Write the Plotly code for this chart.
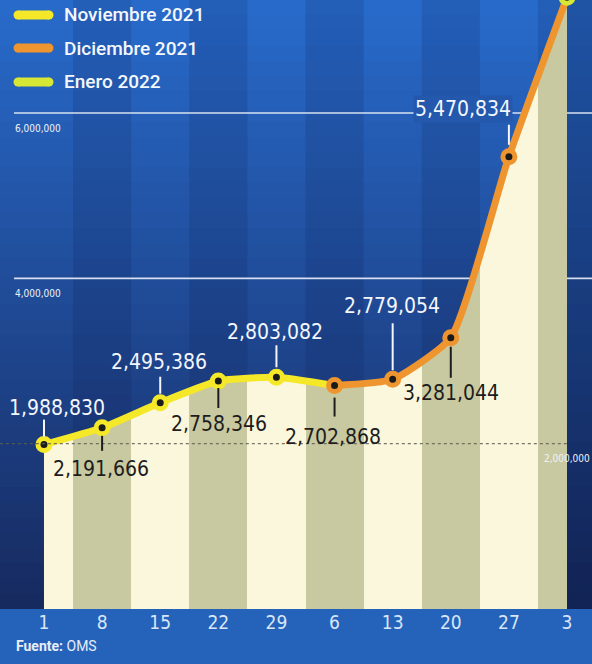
import plotly.graph_objects as go

# semanas (día de inicio) y casos semanales
weeks = ["1", "8", "15", "22", "29", "6", "13", "20", "27", "3"]
nov_values = [1988830, 2191666, 2495386, 2758346, 2803082]
dec_values = [2702868, 2779054, 3281044, 5470834]
jan_values = [7400000]
legend_labels = ["Noviembre 2021", "Diciembre 2021", "Enero 2022"]
grid_values = [2000000, 4000000, 6000000]
grid_labels = ["2,000,000", "4,000,000", "6,000,000"]

values = nov_values + dec_values + jan_values
idx = list(range(len(weeks)))
n_nov, n_dec = len(nov_values), len(dec_values)

YELLOW = "#f4e829"
ORANGE = "#ef9530"
LIME = "#d6e835"
CREAM = "#fbf7dd"
KHAKI = "#c9c9a1"
FONT = "DejaVu Sans Condensed, Liberation Sans Narrow, sans-serif"

fig = go.Figure()

# fondo degradado del área de dibujo (bandas solapadas para evitar costuras)
top_c = (40, 106, 202)
bot_c = (23, 42, 96)
n_bands = 40
for i in range(n_bands):
    t = i / (n_bands - 1)
    c = tuple(round(top_c[k] + (bot_c[k] - top_c[k]) * t) for k in range(3))
    fig.add_shape(type="rect", xref="paper", yref="paper", layer="below",
                  x0=0, x1=1, y0=max(1 - (i + 1.6) / n_bands, 0), y1=1 - i / n_bands,
                  fillcolor="rgb(%d,%d,%d)" % c, line_width=0)

# franjas verticales (más oscuras en semanas impares)
for i in idx:
    if i % 2 == 1:
        fig.add_shape(type="rect", xref="x", yref="paper", layer="below",
                      x0=i - 0.5, x1=min(i + 0.5, 9), y0=0, y1=1,
                      fillcolor="rgba(5,15,60,0.13)", line_width=0)
fig.add_shape(type="rect", xref="x", yref="paper", layer="below",
              x0=9, x1=10, y0=0, y1=1, fillcolor="rgba(5,15,50,0.25)", line_width=0)

# relleno rayado bajo la curva
stops = []
for i in idx:
    a = max(i - 0.5, 0) / 9
    b = min(i + 0.5, 9) / 9
    col = KHAKI if i % 2 == 1 else CREAM
    stops.append([a, col])
    stops.append([b, col])
fig.add_trace(go.Scatter(
    x=idx, y=values, mode="none", fill="tozeroy",
    line=dict(shape="spline", smoothing=0.5),
    fillgradient=dict(type="horizontal", start=0, stop=9, colorscale=stops),
    hoverinfo="skip", showlegend=False, cliponaxis=True))

# líneas
fig.add_trace(go.Scatter(
    x=idx[:n_nov + 1], y=values[:n_nov + 1], mode="lines",
    line=dict(color=YELLOW, width=7, shape="spline", smoothing=0.5),
    hoverinfo="skip", showlegend=False))
fig.add_trace(go.Scatter(
    x=idx[n_nov:], y=values[n_nov:], mode="lines",
    line=dict(color=ORANGE, width=7, shape="spline", smoothing=0.5),
    hoverinfo="skip", showlegend=False))

# marcadores por mes
for xs, ys, col, name in [
    (idx[:n_nov], nov_values, YELLOW, legend_labels[0]),
    (idx[n_nov:n_nov + n_dec], dec_values, ORANGE, legend_labels[1]),
    (idx[n_nov + n_dec:], jan_values, LIME, legend_labels[2]),
]:
    fig.add_trace(go.Scatter(
        x=xs, y=ys, mode="markers", name=name, showlegend=False,
        marker=dict(size=12, color="#1b1b1b", line=dict(color=col, width=5))))

# líneas de referencia
for v in grid_values:
    if v == 2000000:
        fig.add_shape(type="line", xref="x", yref="y", layer="above",
                      x0=-0.76, x1=9, y0=v, y1=v,
                      line=dict(color="rgba(95,95,80,0.85)", width=1.3, dash="dot"))
    else:
        fig.add_shape(type="line", xref="paper", yref="y", layer="below",
                      x0=14 / 592, x1=1, y0=v, y1=v,
                      line=dict(color="rgba(235,240,250,0.9)", width=1.6))

# etiquetas del eje y
for v, lab in zip(grid_values, grid_labels):
    if v == 2000000:
        fig.add_annotation(x=1, xref="paper", y=v, yref="y", text=lab,
                           showarrow=False, xanchor="right", yanchor="top", yshift=-7,
                           font=dict(family=FONT, size=10, color="#eef2fa"))
    else:
        fig.add_annotation(x=13 / 592, xref="paper", y=v, yref="y", text=lab,
                           showarrow=False, xanchor="left", yanchor="top", yshift=-8,
                           font=dict(family=FONT, size=10, color="#eef2fa"))

# etiquetas de valores: (arriba?, desplazamiento texto x, y, línea y0, y1)
label_pos = [
    (True, 13, 37, 8, 25),
    (False, -1, -41, -8, -23),
    (True, -1, 41, 9, 26),
    (False, 1, -43, -7, -27),
    (True, -1, 45, 10, 32),
    (False, -2, -51, -12, -31),
    (True, -1, 73, 9, 56),
    (False, 0, -55, -9, -40),
    (True, -46, 48, 12, 32),
]
for i, (above, dx, dy, l0, l1) in enumerate(label_pos):
    v = values[i]
    col = "#f3f6fc" if above else "#1d1d1d"
    fig.add_shape(type="line", xref="x", yref="y", ysizemode="pixel", yanchor=v,
                  x0=i, x1=i, y0=l0, y1=l1, layer="above",
                  line=dict(color=col, width=2))
    fig.add_annotation(x=i, y=v, text=f"{v:,}", showarrow=False,
                       xshift=dx, yshift=dy,
                       bgcolor="#2358ad" if i == 8 else None,
                       font=dict(family=FONT, size=21, color=col))

# leyenda manual
legend_cols = [YELLOW, ORANGE, LIME]
legend_y = [15, 48, 82]
for lab, col, py in zip(legend_labels, legend_cols, legend_y):
    yp = (609 - py) / 609
    fig.add_shape(type="rect", xref="paper", yref="paper", xsizemode="pixel", ysizemode="pixel",
                  xanchor=0, yanchor=yp, x0=18, x1=49, y0=-4.5, y1=4.5,
                  fillcolor=col, line_width=0)
    for cx in (18, 49):
        fig.add_shape(type="circle", xref="paper", yref="paper", xsizemode="pixel", ysizemode="pixel",
                      xanchor=0, yanchor=yp, x0=cx - 4.5, x1=cx + 4.5, y0=-4.5, y1=4.5,
                      fillcolor=col, line_width=0)
    fig.add_annotation(x=62 / 592, y=yp, xref="paper", yref="paper", text=lab,
                       showarrow=False, xanchor="left", yanchor="middle",
                       font=dict(family="Roboto", size=19, color="#f4f7fc", weight=500))

fig.add_annotation(x=14 / 592, y=-(646 - 609) / 609, xref="paper", yref="paper",
                   text="<b>Fuente:</b> OMS", showarrow=False, xanchor="left", yanchor="middle",
                   font=dict(family="Roboto", size=14, color="#e8eef8"))

fig.update_layout(
    width=592, height=664,
    margin=dict(l=0, r=0, t=0, b=55),
    paper_bgcolor="#2563bb",
    plot_bgcolor="#1d3f8a",
    showlegend=False,
    xaxis=dict(range=[-0.757, 9.43], tickvals=idx, ticktext=weeks, showgrid=False,
               zeroline=False, showline=False, ticks="",
               tickfont=dict(family=FONT, size=19, color="#d9e6f7")),
    yaxis=dict(range=[0, 7367000], showgrid=False, zeroline=False, showticklabels=False),
)

fig.write_html("out.html", config={"displayModeBar": False},
               post_script="document.body.style.margin='0';")
